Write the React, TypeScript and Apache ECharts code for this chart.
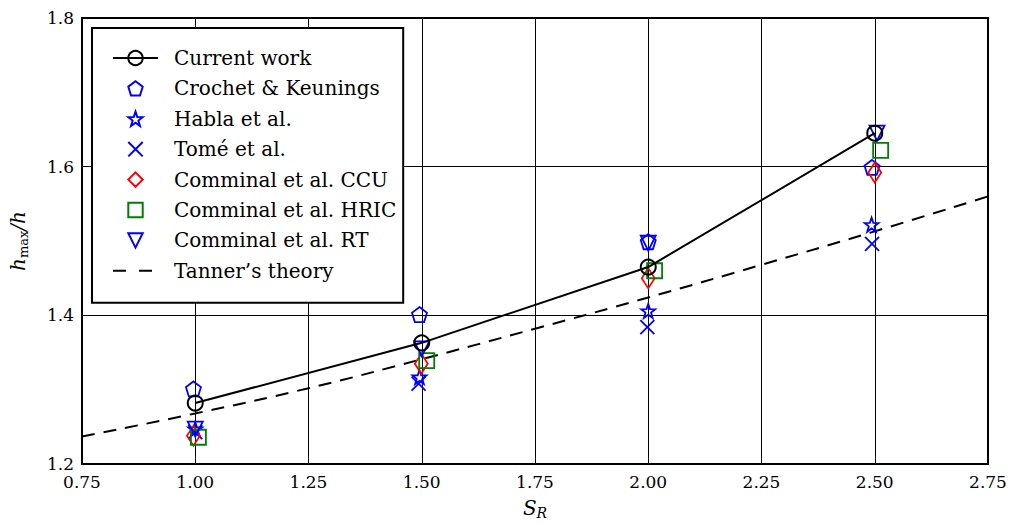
import React, { useEffect, useRef } from "react";
import * as echarts from "echarts";

// ---------- data ----------
const currentX = [1.0, 1.5, 2.0, 2.5];
const currentY = [1.282, 1.363, 1.465, 1.645];

const crochetX = [0.996, 1.495, 2.0, 2.494];
const crochetY = [1.301, 1.401, 1.499, 1.599];

const hablaX = [1.0, 1.495, 2.0, 2.493];
const hablaY = [1.247, 1.317, 1.406, 1.522];

const tomeX = [1.0, 1.493, 1.998, 2.494];
const tomeY = [1.243, 1.308, 1.384, 1.496];

const ccuX = [0.996, 1.499, 2.0, 2.5];
const ccuY = [1.238, 1.335, 1.45, 1.592];

const hricX = [1.007, 1.511, 2.014, 2.513];
const hricY = [1.236, 1.339, 1.46, 1.622];

const rtX = [1.0, 1.5, 2.0, 2.505];
const rtY = [1.247, 1.355, 1.497, 1.645];

const tannerX = [0.75, 1.0, 1.25, 1.5, 1.75, 2.0, 2.25, 2.5, 2.75];
const tannerY = [1.237, 1.268, 1.302, 1.341, 1.382, 1.424, 1.468, 1.513, 1.56];

const seriesNames = [
  "Current work",
  "Crochet & Keunings",
  "Habla et al.",
  "Tomé et al.",
  "Comminal et al. CCU",
  "Comminal et al. HRIC",
  "Comminal et al. RT",
  "Tanner’s theory",
];

// ---------- symbols ----------
const PENTAGON = "path://M0,-1L0.951,-0.309L0.588,0.809L-0.588,0.809L-0.951,-0.309Z";
const STAR =
  "path://M0,-1L0.235,-0.324L0.951,-0.309L0.38,0.124L0.588,0.809L0,0.4L-0.588,0.809L-0.38,0.124L-0.951,-0.309L-0.235,-0.324Z";
const CROSS = "path://M-1,-1L1,1M1,-1L-1,1";
const THIN_DIAMOND = "path://M0,-1L0.6,0L0,1L-0.6,0Z";
const TRI_DOWN = "path://M-1,-1L1,-1L0,1Z";

const FONT = "DejaVu Serif";
const BLUE = "#0000ff";
const RED = "#ff0000";
const GREEN = "#008000";

const zip = (xs: number[], ys: number[]) => xs.map((x, i) => [x, ys[i]]);

function markerSeries(
  name: string,
  xs: number[],
  ys: number[],
  symbol: string,
  size: number | number[],
  color: string
) {
  return {
    name,
    type: "line",
    data: zip(xs, ys),
    symbol,
    symbolSize: size,
    showSymbol: true,
    lineStyle: { width: 0, color },
    itemStyle: { color: "transparent", borderColor: color, borderWidth: 1.8 },
    z: 3,
  };
}

export default function App() {
  const ref = useRef<HTMLDivElement>(null);

  useEffect(() => {
    if (!ref.current) return;
    const chart = echarts.init(ref.current, undefined, {
      renderer: "svg",
      width: 1011,
      height: 525,
    });

    const option = {
      animation: false,
      backgroundColor: "#fff",
      textStyle: { fontFamily: FONT },
      grid: {
        left: 80,
        right: 23,
        top: 18,
        bottom: 55,
        show: true,
        borderColor: "#000",
        borderWidth: 2,
        backgroundColor: "transparent",
      },
      xAxis: {
        type: "value",
        min: 0.75,
        max: 2.75,
        interval: 0.25,
        axisLine: { show: true, lineStyle: { color: "#000", width: 2 } },
        axisTick: { show: false },
        splitLine: { show: true, lineStyle: { color: "#000", width: 1 } },
        axisLabel: {
          formatter: (v: number) => v.toFixed(2),
          fontFamily: FONT,
          fontSize: 17,
          color: "#000",
          margin: 9,
        },
        name: "{i|S}{s|R}",
        nameLocation: "middle",
        nameGap: 32,
        nameTextStyle: {
          fontFamily: FONT,
          rich: {
            i: { fontFamily: FONT, fontStyle: "italic", fontSize: 20, color: "#000", lineHeight: 24 },
            s: {
              fontFamily: FONT,
              fontStyle: "italic",
              fontSize: 14,
              color: "#000",
              lineHeight: 13,
              verticalAlign: "bottom",
            },
          },
        },
      },
      yAxis: {
        type: "value",
        min: 1.2,
        max: 1.8,
        interval: 0.2,
        axisLine: { show: true, lineStyle: { color: "#000", width: 2 } },
        axisTick: { show: false },
        splitLine: { show: true, lineStyle: { color: "#000", width: 1 } },
        axisLabel: {
          formatter: (v: number) => v.toFixed(1),
          fontFamily: FONT,
          fontSize: 17,
          color: "#000",
          margin: 8,
        },
        name: "{i|h}{s|max}{i|/h}",
        nameLocation: "middle",
        nameGap: 52,
        nameTextStyle: {
          fontFamily: FONT,
          rich: {
            i: { fontFamily: FONT, fontStyle: "italic", fontSize: 20, color: "#000", lineHeight: 24 },
            s: {
              fontFamily: FONT,
              fontSize: 13,
              color: "#000",
              lineHeight: 12,
              verticalAlign: "bottom",
            },
          },
        },
      },
      legend: {
        orient: "vertical",
        left: 92,
        top: 28,
        itemWidth: 45,
        itemHeight: 18,
        itemGap: 10.4,
        padding: [20, 7, 22, 20],
        backgroundColor: "#fff",
        borderColor: "#000",
        borderWidth: 2,
        borderRadius: 0,
        selectedMode: false,
        textStyle: {
          fontFamily: FONT,
          fontSize: 20,
          lineHeight: 18,
          color: "#000",
          padding: [0, 0, 0, 11],
        },
        data: seriesNames.map((n, i) =>
          i === 7
            ? {
                name: n,
                lineStyle: { type: [13, 13] },
                itemStyle: { color: "transparent", borderColor: "transparent", borderWidth: 0 },
              }
            : { name: n }
        ),
      },
      series: [
        {
          name: seriesNames[0],
          type: "line",
          data: zip(currentX, currentY),
          symbol: "circle",
          symbolSize: 15,
          showSymbol: true,
          lineStyle: { color: "#000", width: 2 },
          itemStyle: { color: "transparent", borderColor: "#000", borderWidth: 2 },
          z: 4,
        },
        markerSeries(seriesNames[1], crochetX, crochetY, PENTAGON, 15, BLUE),
        markerSeries(seriesNames[2], hablaX, hablaY, STAR, 14, BLUE),
        markerSeries(seriesNames[3], tomeX, tomeY, CROSS, 14, BLUE),
        markerSeries(seriesNames[4], ccuX, ccuY, THIN_DIAMOND, [13, 20], RED),
        markerSeries(seriesNames[5], hricX, hricY, "rect", 15, GREEN),
        markerSeries(seriesNames[6], rtX, rtY, TRI_DOWN, 15, BLUE),
        {
          name: seriesNames[7],
          type: "line",
          data: zip(tannerX, tannerY),
          smooth: true,
          symbol: "none",
          showSymbol: false,
          lineStyle: { color: "#000", width: 2, type: [13, 9] },
          itemStyle: { color: "transparent", borderColor: "transparent" },
          z: 2,
        },
      ],
    };

    chart.setOption(option as any);
    return () => chart.dispose();
  }, []);

  return (
    <div
      ref={ref}
      style={{ position: "fixed", left: 0, top: 0, width: 1011, height: 525, background: "#fff" }}
    />
  );
}
